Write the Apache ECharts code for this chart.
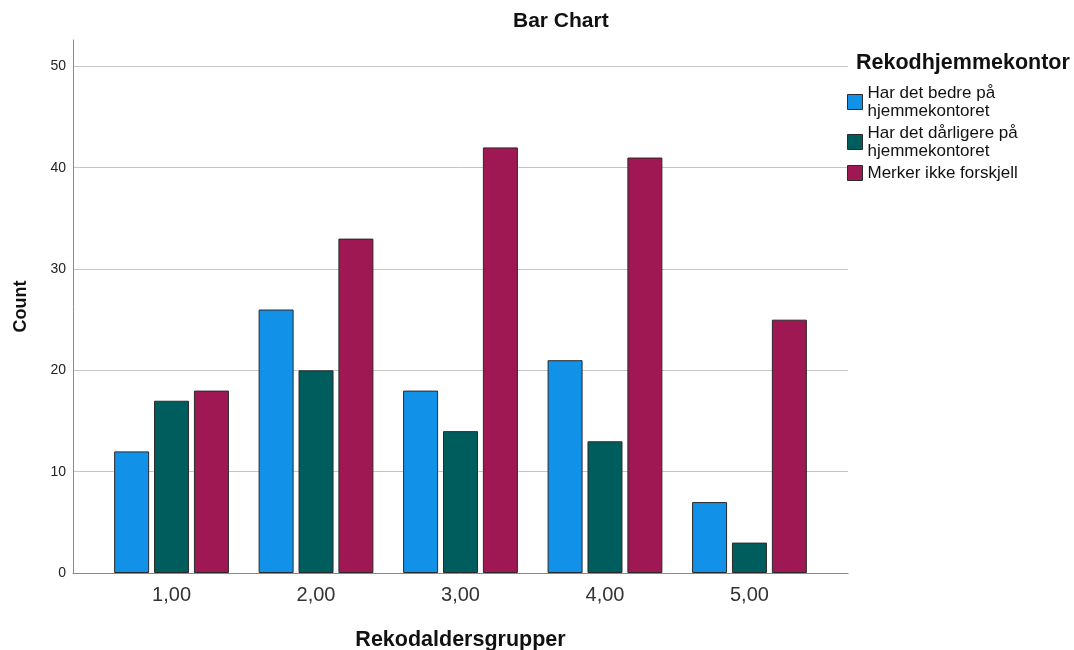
<!DOCTYPE html>
<html><head><meta charset="utf-8">
<script src="https://cdn.jsdelivr.net/npm/echarts@6/dist/echarts.min.js"></script>
<style>html,body{margin:0;padding:0;background:#fff}#c{width:1074px;height:650px}</style>
</head><body><div id="c"></div>
<script>
const categories = [1, 2, 3, 4, 5];
const categoryLabels = ['1,00', '2,00', '3,00', '4,00', '5,00'];
const seriesNames = ['Har det bedre på\nhjemmekontoret', 'Har det dårligere på\nhjemmekontoret', 'Merker ikke forskjell'];
const bedre = [12, 26, 18, 21, 7];
const darligere = [17, 20, 14, 13, 3];
const ingenForskjell = [18, 33, 42, 41, 25];
const yTicks = [10, 20, 30, 40, 50];
const colors = ['#1192e8', '#005d5d', '#9f1853'];

const allValues = [bedre, darligere, ingenForskjell];
const chart = echarts.init(document.getElementById('c'));
const series = allValues.map((vals, i) => ({
  name: seriesNames[i],
  type: 'bar',
  barWidth: 35,
  barGap: '14%',
  itemStyle: { color: colors[i], borderColor: '#2a2a2a', borderWidth: 1 },
  data: vals.map((v, j) => [categories[j], v]),
  markLine: i === 0 ? {
    silent: true, symbol: 'none', label: { show: false },
    lineStyle: { color: '#c4c4c4', type: 'solid', width: 1 },
    data: yTicks.map(t => ({ yAxis: t })),
    z: 0
  } : undefined
}));
chart.setOption({
  animation: false,
  title: [
    { text: 'Bar Chart', left: 508, top: 6, textStyle: { fontFamily: 'Liberation Sans', fontSize: 21, fontWeight: 'bold', color: '#111' } },
    { text: 'Rekodhjemmekontor', left: 851, top: 47, textStyle: { fontFamily: 'Liberation Sans', fontSize: 21.5, fontWeight: 'bold', color: '#111' } }
  ],
  legend: {
    orient: 'vertical', left: 847, top: 84, padding: 0, itemWidth: 15, itemHeight: 15, itemGap: 4,
    icon: 'rect',
    itemStyle: { borderColor: '#2a2a2a', borderWidth: 1 },
    textStyle: { fontFamily: 'Liberation Sans', fontSize: 17, lineHeight: 18, color: '#111' },
    data: seriesNames
  },
  grid: { left: 73, top: 40, right: 226, bottom: 77, outerBoundsMode: 'none', containLabel: false },
  xAxis: {
    type: 'value', min: 0.318, max: 5.682,
    name: 'Rekodaldersgrupper', nameLocation: 'middle', nameGap: 56,
    nameTextStyle: { fontFamily: 'Liberation Sans', fontSize: 21.5, fontWeight: 'bold', color: '#111' },
    axisLine: { show: true, lineStyle: { color: '#8a8a8a', width: 1 } },
    axisTick: { show: false },
    splitLine: { show: false },
    axisLabel: {
      customValues: categories,
      formatter: v => categoryLabels[categories.indexOf(Math.round(v))] || '',
      fontFamily: 'Liberation Sans', fontSize: 20, color: '#333', margin: 12
    }
  },
  yAxis: {
    type: 'value', min: 0, max: 52.6, interval: 10,
    name: 'Count', nameLocation: 'middle', nameGap: 43,
    nameTextStyle: { fontFamily: 'Liberation Sans', fontSize: 18, fontWeight: 'bold', color: '#111' },
    axisLine: { show: true, lineStyle: { color: '#8a8a8a', width: 1 } },
    axisTick: { show: false },
    splitLine: { show: false },
    axisLabel: { showMaxLabel: false, fontFamily: 'Liberation Sans', fontSize: 14, color: '#222', margin: 7 }
  },
  series: series
});
</script></body></html>
